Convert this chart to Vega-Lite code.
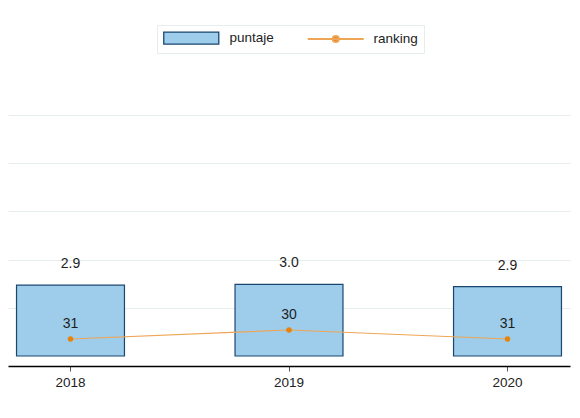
{
  "$schema": "https://vega.github.io/schema/vega-lite/v6.json",
  "width": 562,
  "height": 296,
  "autosize": {"type": "none"},
  "padding": {"left": 8, "top": 70, "right": 10, "bottom": 52},
  "background": "white",
  "config": {
    "view": {"stroke": null},
    "font": "Liberation Sans",
    "text": {"font": "Liberation Sans"},
    "legend": {
      "title": null,
      "orient": "none",
      "direction": "horizontal",
      "legendX": 149,
      "legendY": -45,
      "padding": 6,
      "strokeColor": "#e6eded",
      "fillColor": "#ffffff",
      "labelFont": "Liberation Sans",
      "labelFontSize": 13.5,
      "labelColor": "#222222",
      "labelOffset": 53,
      "columnPadding": 29,
      "symbolSize": 144
    }
  },
  "data": {
    "values": [
      {"year": "2018", "puntaje": 2.94, "ranking": 31},
      {"year": "2019", "puntaje": 2.97, "ranking": 30},
      {"year": "2020", "puntaje": 2.88, "ranking": 31}
    ]
  },
  "encoding": {
    "x": {
      "field": "year",
      "type": "ordinal",
      "scale": {"paddingInner": 0.506, "paddingOuter": 0.039},
      "axis": {
        "title": null,
        "labelAngle": 0,
        "domainColor": "#000000",
        "domainWidth": 1.5,
        "tickColor": "#555555",
        "tickSize": 5,
        "tickWidth": 1,
        "labelColor": "#222222",
        "labelFont": "Liberation Sans",
        "labelFontSize": 13.5,
        "labelPadding": 4,
        "grid": false
      }
    }
  },
  "layer": [
    {
      "encoding": {
        "y": {
          "field": "puntaje",
          "type": "quantitative",
          "scale": {"domain": [-0.415, 11.87], "nice": false, "zero": false},
          "axis": {
            "title": null,
            "grid": true,
            "values": [2, 4, 6, 8, 10],
            "labels": false,
            "ticks": false,
            "domain": false,
            "gridColor": "#e6eded",
            "gridWidth": 1
          }
        }
      },
      "layer": [
        {
          "mark": {"type": "bar", "fill": "#9dcdea", "stroke": "#1a476f", "strokeWidth": 1.2},
          "encoding": {
            "y2": {"datum": 0}
          }
        },
        {
          "mark": {"type": "text", "dy": -21, "fontSize": 14, "color": "#1e1e1e", "font": "Liberation Sans"},
          "encoding": {
            "text": {"field": "puntaje", "type": "quantitative", "format": ".1f"}
          }
        }
      ]
    },
    {
      "encoding": {
        "y": {
          "field": "ranking",
          "type": "quantitative",
          "scale": {"domain": [1.1, 34], "nice": false, "zero": false, "reverse": true},
          "axis": null
        }
      },
      "layer": [
        {
          "mark": {"type": "line", "strokeWidth": 1.2},
          "encoding": {
            "color": {
              "datum": "ranking",
              "type": "nominal",
              "scale": {"domain": ["puntaje", "ranking"], "range": ["#1a476f", "#eea555"]},
              "legend": {
                "encode": {
                  "symbols": {
                    "update": {
                      "shape": {"signal": "datum.value === 'puntaje' ? 'M-1,-1H8.17V1H-1Z' : 'M-1,0H8.33M3.17,0A0.5,0.5 0 1,1 4.17,0A0.5,0.5 0 1,1 3.17,0Z'"},
                      "fill": {"signal": "datum.value === 'puntaje' ? '#9dcdea' : '#e8820a'"},
                      "stroke": {"signal": "datum.value === 'puntaje' ? '#1a476f' : '#f0ae68'"},
                      "strokeWidth": {"signal": "datum.value === 'puntaje' ? 1.3 : 2"},
                      "opacity": {"value": 1},
                      "fillOpacity": {"value": 1},
                      "strokeOpacity": {"value": 1}
                    }
                  }
                }
              }
            }
          }
        },
        {
          "mark": {"type": "point", "filled": true, "size": 30, "color": "#e8820a", "opacity": 1},
          "encoding": {}
        },
        {
          "mark": {"type": "text", "dy": -15, "fontSize": 14, "color": "#1e1e1e", "font": "Liberation Sans"},
          "encoding": {
            "text": {"field": "ranking", "type": "quantitative", "format": "d"}
          }
        }
      ]
    }
  ],
  "resolve": {"scale": {"y": "independent"}}
}
